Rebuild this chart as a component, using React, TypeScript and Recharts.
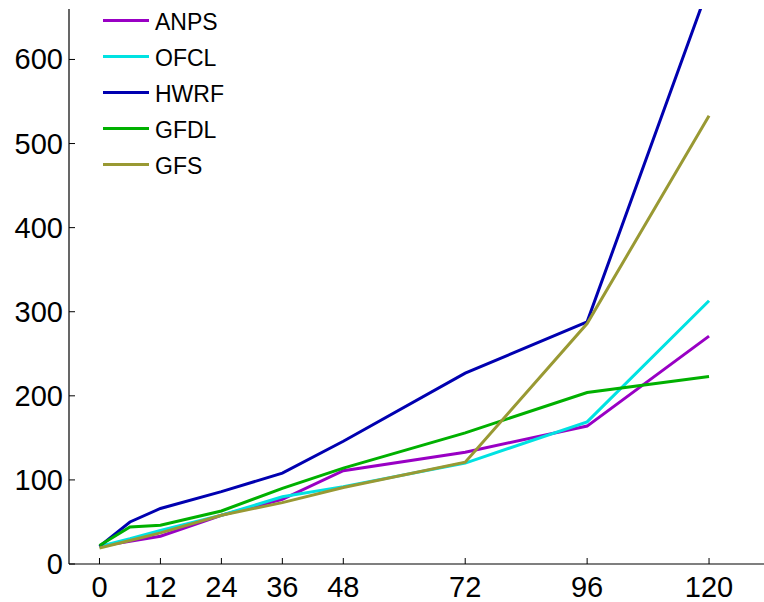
import React from 'react';
import { LineChart, Line, XAxis, YAxis } from 'recharts';

// forecast hour
const hours = [0, 6, 12, 24, 36, 48, 72, 96, 120];

// track error per model
const anps = [21, 27, 33, 58, 77, 111, 133, 164, 271];
const ofcl = [21, 30, 40, 58, 80, 92, 120, 169, 313];
const hwrf = [21, 50, 66, 86, 108, 146, 227, 288, 688];
const gfdl = [22, 44, 46, 63, 90, 114, 156, 204, 223];
const gfs = [19, 28, 37, 58, 73, 91, 121, 286, 533];

const xTicks = [0, 12, 24, 36, 48, 72, 96, 120];
const yTicks = [0, 100, 200, 300, 400, 500, 600];

const series = [
  { key: 'ANPS', values: anps, color: '#9900c4' },
  { key: 'OFCL', values: ofcl, color: '#00e2e2' },
  { key: 'HWRF', values: hwrf, color: '#0000b0' },
  { key: 'GFDL', values: gfdl, color: '#00b000' },
  { key: 'GFS', values: gfs, color: '#999933' },
];

const data = hours.map((h, i) => {
  const row: any = { hour: h };
  series.forEach((s) => {
    row[s.key] = s.values[i];
  });
  return row;
});

const FONT = '"Liberation Sans", Arial, Helvetica, sans-serif';
const TICK = 6;

// matlab style ticks: marks point into the plot box
const bottomTick = (props: any) => {
  const { x, y, payload } = props;
  return (
    <g>
      <line x1={x} x2={x} y1={y} y2={y - TICK} stroke="#000" strokeWidth={1} />
      <text x={x} y={y} dy={33} textAnchor="middle" fill="#000" fontSize={29} fontFamily={FONT}>
        {payload.value}
      </text>
    </g>
  );
};

const leftTick = (props: any) => {
  const { x, y, payload } = props;
  return (
    <g>
      <line x1={x} x2={x + TICK} y1={y} y2={y} stroke="#000" strokeWidth={1} />
      <text x={x - 6} y={y} dy={10} textAnchor="end" fill="#000" fontSize={29} fontFamily={FONT}>
        {payload.value}
      </text>
    </g>
  );
};

const topTick = (props: any) => {
  const { x, y } = props;
  return <line x1={x} x2={x} y1={y} y2={y + TICK} stroke="#000" strokeWidth={1} />;
};

const rightTick = (props: any) => {
  const { x, y } = props;
  return <line x1={x} x2={x - TICK} y1={y} y2={y} stroke="#000" strokeWidth={1} />;
};

export default function App() {
  return (
    <div
      style={{
        position: 'absolute',
        left: 0,
        top: 0,
        width: 764,
        height: 602,
        overflow: 'hidden',
        background: '#fff',
        fontFamily: FONT,
      }}
    >
      <LineChart
        width={771}
        height={602}
        data={data}
        margin={{ top: 9, right: 1, left: 0, bottom: 0 }}
      >
        <XAxis
          dataKey="hour"
          type="number"
          domain={[-6, 132]}
          ticks={xTicks}
          allowDataOverflow
          height={38}
          tickSize={0}
          tickMargin={0}
          tickLine={false}
          axisLine={{ stroke: '#000', strokeWidth: 1.2 }}
          tick={bottomTick}
        />
        <XAxis
          xAxisId="top"
          orientation="top"
          dataKey="hour"
          type="number"
          domain={[-6, 132]}
          ticks={xTicks}
          allowDataOverflow
          height={0}
          tickSize={0}
          tickMargin={0}
          tickLine={false}
          axisLine={{ stroke: '#000', strokeWidth: 1.2 }}
          tick={topTick}
        />
        <YAxis
          type="number"
          domain={[0, 660]}
          ticks={yTicks}
          allowDataOverflow
          width={69}
          tickSize={0}
          tickMargin={0}
          tickLine={false}
          axisLine={{ stroke: '#000', strokeWidth: 1.2 }}
          tick={leftTick}
        />
        <YAxis
          yAxisId="right"
          orientation="right"
          type="number"
          domain={[0, 660]}
          ticks={yTicks}
          allowDataOverflow
          width={0}
          tickSize={0}
          tickMargin={0}
          tickLine={false}
          axisLine={{ stroke: '#000', strokeWidth: 1.2 }}
          tick={rightTick}
        />
        {series.map((s) => (
          <Line
            key={s.key}
            dataKey={s.key}
            stroke={s.color}
            strokeWidth={3}
            dot={false}
            activeDot={false}
            type="linear"
            isAnimationActive={false}
          />
        ))}
      </LineChart>
      <div
        style={{
          position: 'absolute',
          left: 100,
          top: 10,
          width: 140,
          height: 170,
          overflow: 'hidden',
        }}
      >
        {series.map((s, i) => (
          <div
            key={s.key}
            style={{
              position: 'absolute',
              left: 0,
              top: 10 + i * 36 - 18,
              height: 36,
              display: 'flex',
              alignItems: 'center',
            }}
          >
            <div
              style={{
                marginLeft: 3,
                width: 46,
                height: 3,
                background: s.color,
              }}
            />
            <span
              style={{
                marginLeft: 6,
                fontSize: 23,
                lineHeight: '36px',
                color: '#000',
                position: 'relative',
                top: 2,
              }}
            >
              {s.key}
            </span>
          </div>
        ))}
      </div>
    </div>
  );
}
